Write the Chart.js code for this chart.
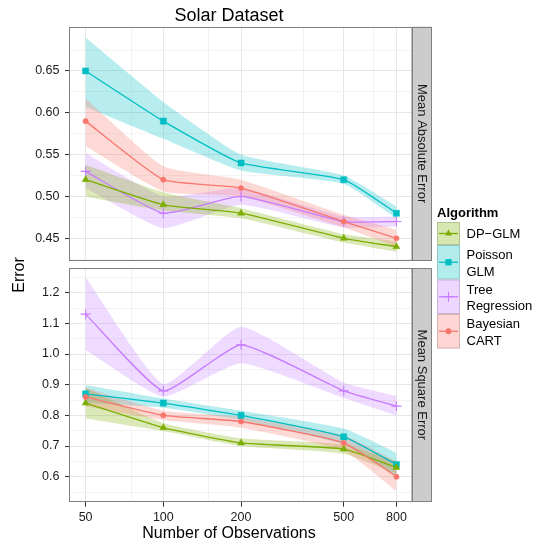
<!DOCTYPE html>
<html>
<head>
<meta charset="utf-8">
<script src="https://cdn.jsdelivr.net/npm/chart.js@4.4.0/dist/chart.umd.min.js"></script>
<style>
html,body{margin:0;padding:0;background:#fff;}
body{width:534px;height:542px;position:relative;overflow:hidden;font-family:"Liberation Sans",Arial,Helvetica,sans-serif;}
#c1{position:absolute;left:0;top:0;}
#c2{position:absolute;left:0;top:265px;}
#ylab{position:absolute;left:-11.5px;top:264.5px;width:60px;height:20px;line-height:20px;text-align:center;font-size:16px;color:#000;transform:rotate(-90deg);}
#legend{position:absolute;left:430px;top:200px;}
</style>
</head>
<body>
<canvas id="c1" width="534" height="265"></canvas>
<canvas id="c2" width="534" height="277"></canvas>
<div id="ylab">Error</div>
<svg id="legend" width="104" height="152"></svg>
<script>
// ---------- data ----------
const observations = [50, 100, 200, 500, 800];

// Mean Absolute Error panel
const maeBayes   = [0.59, 0.52, 0.51, 0.47, 0.45];
const maeBayesLo = [0.560, 0.506, 0.500, 0.463, 0.440];
const maeBayesHi = [0.617, 0.536, 0.520, 0.478, 0.460];
const maeDP      = [0.52, 0.49, 0.48, 0.45, 0.44];
const maeDPLo    = [0.500, 0.483, 0.474, 0.445, 0.434];
const maeDPHi    = [0.538, 0.505, 0.486, 0.455, 0.446];
const maePois    = [0.65, 0.59, 0.54, 0.52, 0.48];
const maePoisLo  = [0.607, 0.569, 0.531, 0.515, 0.474];
const maePoisHi  = [0.690, 0.613, 0.550, 0.525, 0.488];
const maeTree    = [0.53, 0.48, 0.50, 0.47, 0.47];
const maeTreeLo  = [0.510, 0.462, 0.490, 0.463, 0.464];
const maeTreeHi  = [0.552, 0.500, 0.510, 0.476, 0.476];

// Mean Square Error panel
const mseBayes   = [0.86, 0.80, 0.78, 0.71, 0.60];
const mseBayesLo = [0.830, 0.785, 0.760, 0.685, 0.553];
const mseBayesHi = [0.890, 0.815, 0.795, 0.735, 0.650];
const mseDP      = [0.84, 0.76, 0.71, 0.69, 0.63];
const mseDPLo    = [0.790, 0.749, 0.700, 0.675, 0.610];
const mseDPHi    = [0.890, 0.775, 0.725, 0.705, 0.650];
const msePois    = [0.87, 0.84, 0.80, 0.73, 0.64];
const msePoisLo  = [0.840, 0.825, 0.785, 0.705, 0.600];
const msePoisHi  = [0.899, 0.855, 0.815, 0.757, 0.678];
const mseTree    = [1.13, 0.88, 1.03, 0.88, 0.83];
const mseTreeLo  = [1.013, 0.861, 0.970, 0.857, 0.800];
const mseTreeHi  = [1.250, 0.902, 1.089, 0.907, 0.863];

// ticks
const xMajorTicks = [50, 100, 200, 500, 800];
const xMinorTicks = [75, 150, 350, 650];
const maeMajorTicks = [0.45, 0.50, 0.55, 0.60, 0.65];
const maeMinorTicks = [0.425, 0.475, 0.525, 0.575, 0.625, 0.675];
const mseMajorTicks = [0.6, 0.7, 0.8, 0.9, 1.0, 1.1, 1.2];
const mseMinorTicks = [0.55, 0.65, 0.75, 0.85, 0.95, 1.05, 1.15, 1.25];

const legendOrder = ['DP\u2212GLM', 'Poisson GLM', 'Tree Regression', 'Bayesian CART'];

// ---------- styling ----------
const FONT = "'Liberation Sans', Arial, Helvetica, sans-serif";
Chart.defaults.font.family = FONT;
const MAJOR = '#e6e6e6', MINOR = '#f3f3f3', BORDER = '#7f7f7f', TEXT = '#1a1a1a';
const TENSION = 0.15;

const series = [
  {name:'Bayesian CART',   color:'#F8766D', style:'circle',   radius:2.6, bw:0.6, mae:[maeBayes, maeBayesLo, maeBayesHi], mse:[mseBayes, mseBayesLo, mseBayesHi]},
  {name:'DP\u2212GLM',      color:'#7CAE00', style:'triangle', radius:4.0, bw:0.5, mae:[maeDP, maeDPLo, maeDPHi],          mse:[mseDP, mseDPLo, mseDPHi]},
  {name:'Poisson GLM',     color:'#00BFC4', style:'rect',     radius:4.3, bw:0.5, mae:[maePois, maePoisLo, maePoisHi],    mse:[msePois, msePoisLo, msePoisHi]},
  {name:'Tree Regression', color:'#C77CFF', style:'cross',    radius:5.0, bw:1.1, mae:[maeTree, maeTreeLo, maeTreeHi],    mse:[mseTree, mseTreeLo, mseTreeHi]}
];

function rgba(hex, a){ const n = parseInt(hex.slice(1),16); return `rgba(${n>>16},${(n>>8)&255},${n&255},${a})`; }
function pts(arr){ return observations.map((x,i)=>({x:x, y:arr[i]})); }

function buildDatasets(key){
  const ds = [];
  series.forEach(s => {
    const [, lo, hi] = s[key];
    const hiIndex = ds.length;
    ds.push({label:s.name+' hi', data:pts(hi), borderWidth:0, borderColor:'rgba(0,0,0,0)', pointRadius:0, fill:false, tension:TENSION});
    ds.push({label:s.name+' lo', data:pts(lo), borderWidth:0, borderColor:'rgba(0,0,0,0)', pointRadius:0, fill:{target:hiIndex}, backgroundColor:rgba(s.color,0.28), tension:TENSION});
  });
  series.forEach(s => {
    ds.push({label:s.name, data:pts(s[key][0]), borderColor:s.color, backgroundColor:s.color,
      borderWidth:1.3, pointStyle:s.style, pointRadius:s.radius, pointBorderWidth:s.bw,
      pointBackgroundColor:s.color, pointBorderColor:s.color, fill:false, tension:TENSION});
  });
  return ds;
}

const frame = {
  id:'frame',
  afterDraw(chart){
    const {ctx, chartArea:a} = chart;
    const st = chart.scales.strip;
    ctx.save();
    ctx.strokeStyle = BORDER; ctx.lineWidth = 1;
    ctx.strokeRect(Math.round(a.left)-0.5, Math.round(a.top)+0.5, Math.round(a.right)-Math.round(a.left)+0.5, Math.round(a.bottom)-Math.round(a.top)-1);
    ctx.strokeRect(Math.round(st.left)+0.5, Math.round(st.top)+0.5, Math.round(st.right)-Math.round(st.left)-1, Math.round(st.bottom)-Math.round(st.top)-1);
    ctx.restore();
  }
};

function noPad(s){ s.paddingTop = 0; s.paddingBottom = 0; s.paddingLeft = 0; s.paddingRight = 0; }

const xTicks = [...xMajorTicks, ...xMinorTicks].sort((a,b)=>a-b);
function gridCol(major){ return c => (c.tick && major.includes(c.tick.value)) ? MAJOR : MINOR; }
function tickCol(major){ return c => (c.tick && major.includes(c.tick.value)) ? '#333333' : 'rgba(0,0,0,0)'; }

function makeChart(canvas, key, opts){
  const yMajor = key==='mae' ? maeMajorTicks : mseMajorTicks;
  const yMinor = key==='mae' ? maeMinorTicks : mseMinorTicks;
  const yTicks = [...yMajor, ...yMinor].sort((a,b)=>a-b);
  return new Chart(canvas, {
    type:'line',
    data:{datasets:buildDatasets(key)},
    options:{
      responsive:false, animation:false, events:[], devicePixelRatio:1,
      layout:{autoPadding:false, padding:{left:26, right:102, top:opts.padTop, bottom:0}},
      plugins:{
        legend:{display:false}, tooltip:{enabled:false},
        filler:{drawTime:'beforeDatasetsDraw'},
        title:opts.title
      },
      scales:{
        x:{
          type:'logarithmic', min:43.5, max:919,
          afterBuildTicks:s=>{ s.ticks = xTicks.map(v=>({value:v})); },
          ticks:{display:opts.showX, autoSkip:false, maxRotation:0, color:TEXT, font:{size:12.5}, padding:3.5,
                 callback:v => xMajorTicks.includes(v) ? String(v) : ''},
          grid:{color:gridCol(xMajorTicks), lineWidth:1, drawTicks:opts.showX, tickLength:5, tickColor:tickCol(xMajorTicks)},
          border:{display:false},
          afterFit:s=>{ s.height = opts.xHeight; noPad(s); }
        },
        y:{
          type:'linear', position:'left', min:opts.yMin, max:opts.yMax,
          afterBuildTicks:s=>{ s.ticks = yTicks.map(v=>({value:v})); },
          ticks:{autoSkip:false, color:TEXT, font:{size:12.5}, padding:5.5,
                 callback:v => yMajor.includes(v) ? v.toFixed(opts.dec) : ''},
          grid:{color:gridCol(yMajor), lineWidth:1, drawTicks:true, tickLength:5, tickColor:tickCol(yMajor)},
          border:{display:false},
          afterFit:s=>{ s.width = 44; noPad(s); }
        },
        strip:{
          type:'linear', position:'right', display:true, min:0, max:1,
          ticks:{display:false}, grid:{display:false, drawTicks:false}, border:{display:false},
          backgroundColor:'#cccccc',
          title:{display:true, text:opts.strip, color:TEXT, font:{size:13}, padding:{top:2.2, bottom:0}},
          afterFit:s=>{ s.width = 20; noPad(s); }
        }
      }
    },
    plugins:[frame]
  });
}

makeChart(document.getElementById('c1'), 'mae', {
  padTop:0, showX:false, xHeight:4.3, yMin:0.4232, yMax:0.703, dec:2, strip:'Mean Absolute Error',
  title:{display:true, text:'Solar Dataset', color:'#000', font:{size:18, weight:'normal', lineHeight:1.2}, padding:{top:5, bottom:0}}
});
makeChart(document.getElementById('c2'), 'mse', {
  padTop:3, showX:true, xHeight:24.3, yMin:0.5185, yMax:1.2805, dec:1, strip:'Mean Square Error',
  title:{display:true, position:'bottom', text:'Number of Observations', color:'#000', font:{size:16, weight:'normal', lineHeight:1.0}, padding:{top:0, bottom:0}}
});

// ---------- legend ----------
(function(){
  const svg = document.getElementById('legend');
  const NS = 'http://www.w3.org/2000/svg';
  const el = (tag, attrs, text) => { const e = document.createElementNS(NS, tag); for (const k in attrs) e.setAttribute(k, attrs[k]); if (text) e.textContent = text; svg.appendChild(e); return e; };
  el('text', {x:7, y:12.7, 'dominant-baseline':'central', 'font-family':FONT, 'font-size':13, 'font-weight':'bold', fill:'#000'}, 'Algorithm');
  const rows = [
    {top:22,   h:23,   lines:[33.5]},
    {top:45,   h:34.5, lines:[54.3, 71]},
    {top:79.5, h:34.5, lines:[89.3, 105.7]},
    {top:114,  h:34.5, lines:[123.3, 140]}
  ];
  const labelLines = {'DP\u2212GLM':['DP\u2212GLM'], 'Poisson GLM':['Poisson','GLM'], 'Tree Regression':['Tree','Regression'], 'Bayesian CART':['Bayesian','CART']};
  legendOrder.forEach((name, i) => {
    const s = series.find(q => q.name === name);
    const r = rows[i];
    const x0 = 7, w = 23, cy = r.top + r.h/2, cx = x0 + w/2;
    el('rect', {x:x0+0.5, y:r.top+0.5, width:w-1, height:r.h-1, fill:'#fff', stroke:'#cccccc', 'stroke-width':1});
    el('rect', {x:x0, y:r.top, width:w, height:r.h, fill:rgba(s.color,0.3)});
    el('line', {x1:x0+2, y1:cy, x2:x0+w-2, y2:cy, stroke:s.color, 'stroke-width':1.3});
    if (s.style==='circle') el('circle', {cx:cx, cy:cy, r:2.9, fill:s.color});
    if (s.style==='rect') el('rect', {x:cx-3.1, y:cy-3.1, width:6.2, height:6.2, fill:s.color});
    if (s.style==='triangle') el('polygon', {points:`${cx},${cy-4} ${cx+3.46},${cy+2} ${cx-3.46},${cy+2}`, fill:s.color});
    if (s.style==='cross') { el('line', {x1:cx-5, y1:cy, x2:cx+5, y2:cy, stroke:s.color, 'stroke-width':1.1}); el('line', {x1:cx, y1:cy-5, x2:cx, y2:cy+5, stroke:s.color, 'stroke-width':1.1}); }
    labelLines[name].forEach((t, j) => {
      el('text', {x:36.5, y:r.lines[j], 'dominant-baseline':'central', 'font-family':FONT, 'font-size':13, fill:'#000'}, t);
    });
  });
})();
</script>
</body>
</html>
